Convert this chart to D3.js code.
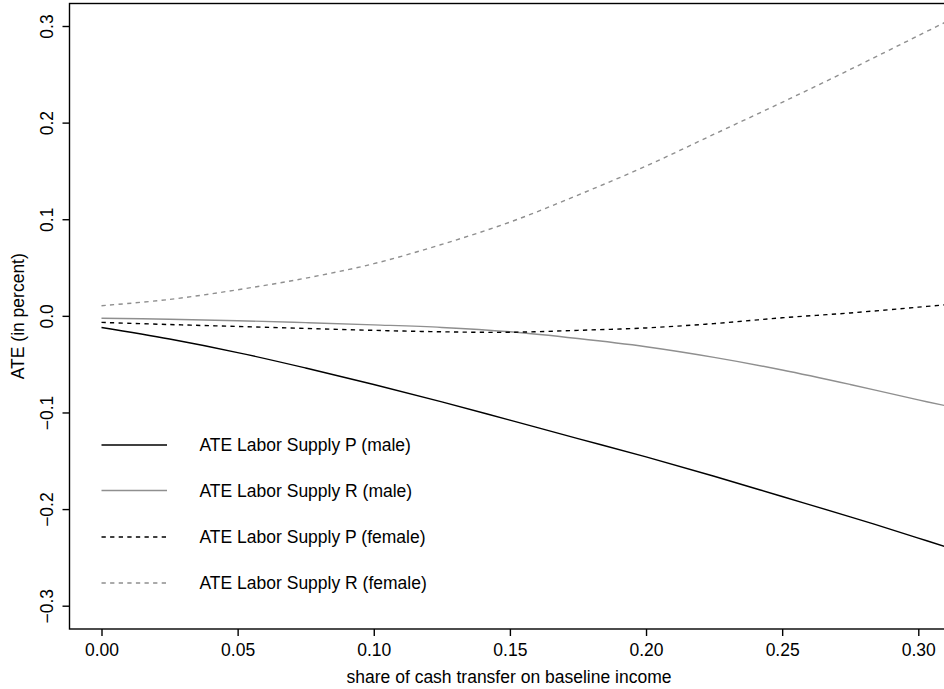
<!DOCTYPE html>
<html>
<head>
<meta charset="utf-8">
<script src="https://cdn.jsdelivr.net/npm/d3@7"></script>
<style>
  body { margin: 0; background: #fff; }
  text { font-family: 'Liberation Sans', Arial, sans-serif; fill: #000; }
</style>
</head>
<body>
<script>

const shares = [0, 0.025, 0.05, 0.075, 0.10, 0.125, 0.15, 0.175, 0.20, 0.225, 0.25, 0.275, 0.30, 0.31]

const pMale = [-0.012, -0.024, -0.038, -0.054, -0.071, -0.089, -0.108, -0.127, -0.146, -0.166, -0.187, -0.208, -0.230, -0.239]
const rMale = [-0.0025, -0.0035, -0.005, -0.007, -0.0093, -0.012, -0.0165, -0.0235, -0.032, -0.043, -0.056, -0.071, -0.087, -0.093]
const pFemale = [-0.0068, -0.009, -0.011, -0.013, -0.015, -0.0165, -0.017, -0.015, -0.0125, -0.008, -0.002, 0.003, 0.009, 0.0115]
const rFemale = [0.0105, 0.017, 0.027, 0.039, 0.054, 0.074, 0.097, 0.125, 0.155, 0.188, 0.221, 0.255, 0.290, 0.304]

const xTicks = [0, 0.05, 0.10, 0.15, 0.20, 0.25, 0.30]
const yTicks = [-0.3, -0.2, -0.1, 0.0, 0.1, 0.2, 0.3]

const seriesNames = [
  'ATE Labor Supply P (male)',
  'ATE Labor Supply R (male)',
  'ATE Labor Supply P (female)',
  'ATE Labor Supply R (female)'
]

const WIDTH = 944
const HEIGHT = 689
const FONT = 17.5
const LW = 1.4
const GREY = '#8f8f8f'

// plot box (right side runs off the picture like in the original)
const box = { left: 69.5, right: 948.5, top: 3.5, bottom: 629 }

const xScale = d3.scaleLinear()
  .domain([0, 0.3])
  .range([101.5, 918.3])

const yScale = d3.scaleLinear()
  .domain([-0.3, 0.3])
  .range([605.7, 26])

const styles = [
  { color: '#000', dash: null },
  { color: GREY, dash: null },
  { color: '#000', dash: '4.3,4.3' },
  { color: GREY, dash: '4.3,4.3' }
]

const series = [pMale, rMale, pFemale, rFemale].map((vals, i) => ({
  name: seriesNames[i],
  style: styles[i],
  points: shares.map((s, j) => ({ x: s, y: vals[j] }))
}))

const svg = d3.select('body')
  .append('svg')
  .attr('width', WIDTH)
  .attr('height', HEIGHT)

svg.append('defs')
  .append('clipPath')
  .attr('id', 'plot-clip')
  .append('rect')
  .attr('x', box.left)
  .attr('y', box.top)
  .attr('width', box.right - box.left)
  .attr('height', box.bottom - box.top)

const line = d3.line()
  .x(d => xScale(d.x))
  .y(d => yScale(d.y))
  .curve(d3.curveCatmullRom.alpha(0.5))

svg.append('g')
  .attr('clip-path', 'url(#plot-clip)')
  .selectAll('path')
  .data(series)
  .enter()
  .append('path')
  .attr('d', d => line(d.points))
  .attr('fill', 'none')
  .attr('stroke', d => d.style.color)
  .attr('stroke-width', LW)
  .attr('stroke-dasharray', d => d.style.dash)

// box
svg.append('rect')
  .attr('x', box.left)
  .attr('y', box.top)
  .attr('width', box.right - box.left)
  .attr('height', box.bottom - box.top)
  .attr('fill', 'none')
  .attr('stroke', '#000')
  .attr('stroke-width', LW)

const fmtX = d3.format('.2f')
const fmtY = d => d3.format('.1f')(d).replace('-', '\u2212')

const xAxis = d3.axisBottom(xScale)
  .tickValues(xTicks)
  .tickFormat(fmtX)
  .tickSize(7)

const yAxis = d3.axisLeft(yScale)
  .tickValues(yTicks)
  .tickFormat(fmtY)
  .tickSize(7)

const gx = svg.append('g')
  .attr('transform', 'translate(0,' + box.bottom + ')')
  .call(xAxis)

gx.select('.domain').remove()
gx.selectAll('line').attr('stroke', '#000').attr('stroke-width', LW)
gx.selectAll('text')
  .attr('font-size', FONT)
  .attr('font-family', null)
  .attr('y', 27)
  .attr('dy', null)

const gy = svg.append('g')
  .attr('transform', 'translate(' + box.left + ',0)')
  .call(yAxis)

gy.select('.domain').remove()
gy.selectAll('line').attr('stroke', '#000').attr('stroke-width', LW)
gy.selectAll('text')
  .attr('font-size', FONT)
  .attr('font-family', null)
  .attr('x', null)
  .attr('dy', null)
  .attr('text-anchor', 'middle')
  .attr('transform', 'translate(-17,0) rotate(-90)')

svg.append('text')
  .attr('x', (box.left + box.right) / 2)
  .attr('y', 683)
  .attr('text-anchor', 'middle')
  .attr('font-size', FONT)
  .text('share of cash transfer on baseline income')

svg.append('text')
  .attr('transform', 'translate(24,' + (box.top + box.bottom) / 2 + ') rotate(-90)')
  .attr('text-anchor', 'middle')
  .attr('font-size', FONT)
  .text('ATE (in percent)')

// legend
const legendY = [445, 490.5, 537, 583]

const legend = svg.append('g')

legend.selectAll('line')
  .data(series)
  .enter()
  .append('line')
  .attr('x1', 101.5)
  .attr('x2', 167)
  .attr('y1', (d, i) => legendY[i])
  .attr('y2', (d, i) => legendY[i])
  .attr('stroke', d => d.style.color)
  .attr('stroke-width', LW)
  .attr('stroke-dasharray', d => d.style.dash)

legend.selectAll('text')
  .data(series)
  .enter()
  .append('text')
  .attr('x', 199.5)
  .attr('y', (d, i) => legendY[i])
  .attr('dy', '.35em')
  .attr('font-size', FONT)
  .text(d => d.name)

</script>
</body>
</html>
